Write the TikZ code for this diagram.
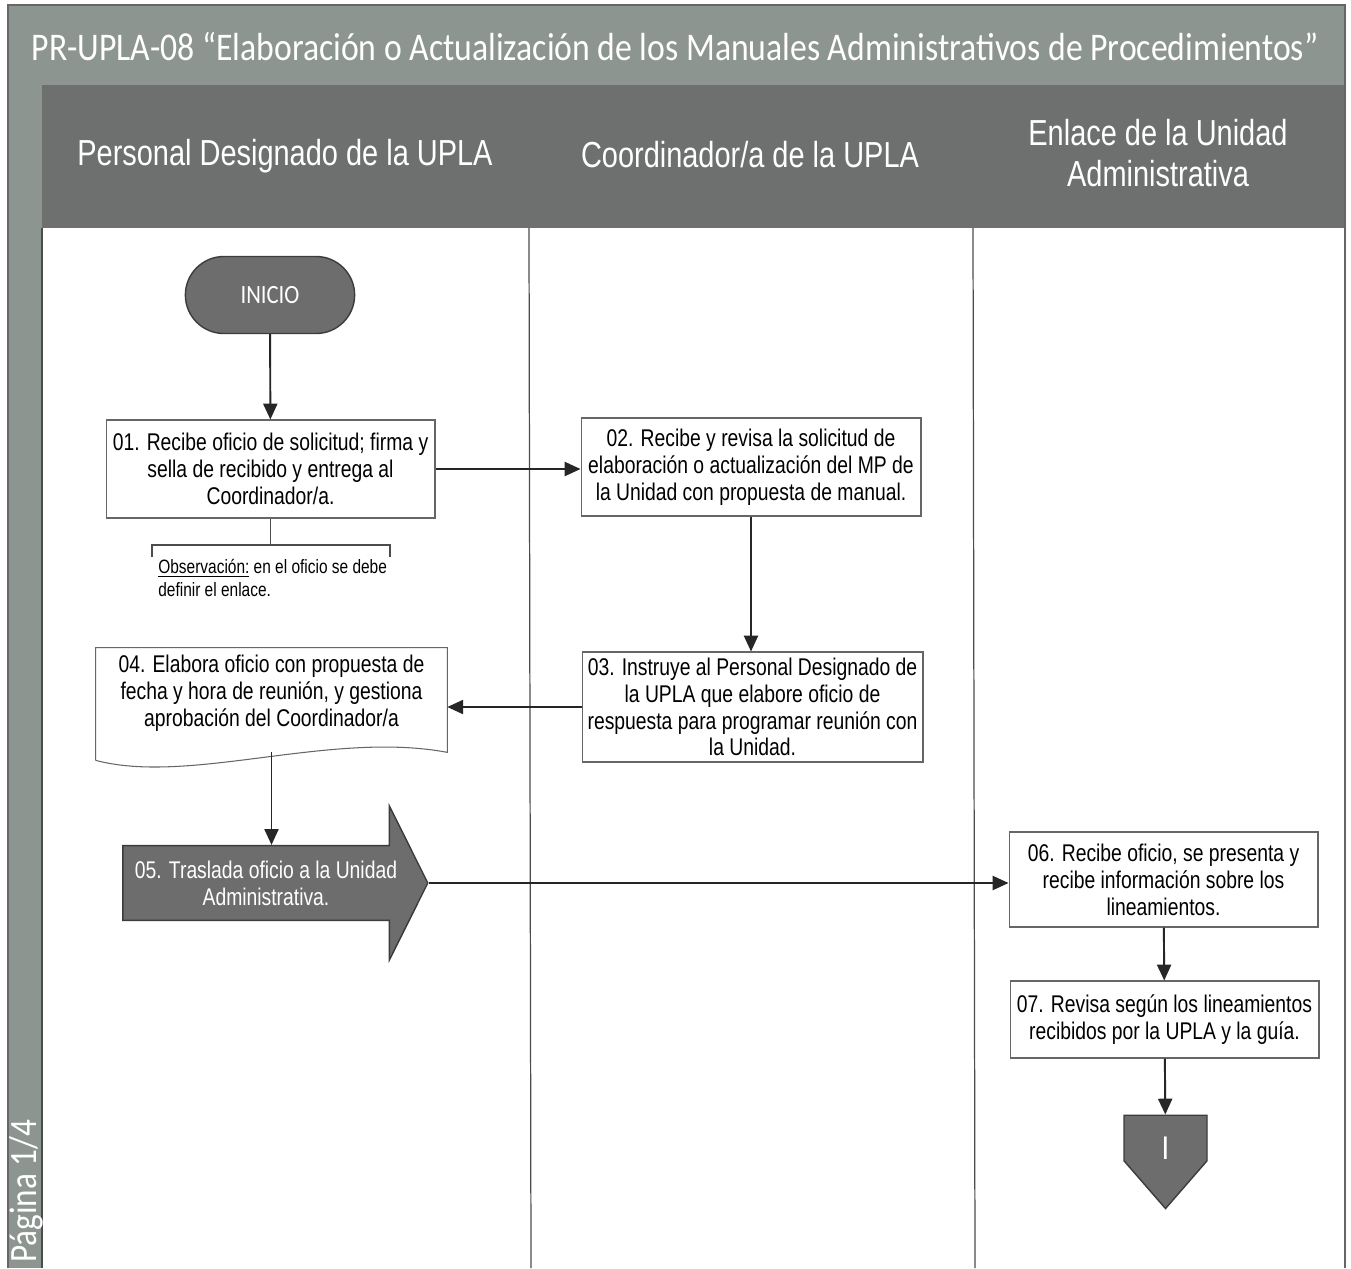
\documentclass[tikz,border=0pt]{standalone}
\usepackage{fontspec}
\setmainfont[FakeStretch=0.8]{Liberation Sans}
\newfontfamily\calibri[FakeStretch=0.86]{Carlito}
\usepackage{xcolor}
\usepackage{tikz}
\usetikzlibrary{arrows.meta,positioning,calc,shapes.misc,shapes.arrows,shapes.symbols}
\definecolor{banda}{HTML}{8D9590}
\definecolor{cabecera}{HTML}{6E706F}
\definecolor{relleno}{HTML}{6D6D6D}
\definecolor{borde}{HTML}{3C3C3C}

\begin{document}
\begin{tikzpicture}[x=0.02cm,y=-0.02cm,
  paso/.style={draw=black!60,line width=0.6pt,fill=white,align=center,inner sep=1pt,font=\fontsize{13.75}{15.3}\selectfont},
  oscuro/.style={draw=borde,line width=0.8pt,fill=relleno,text=white,align=center},
  flecha/.style={line width=1.1pt,draw=black!85,-{Triangle[length=9pt,width=8pt]}},
  carril/.style={text=white,align=center,font=\fontsize{20.6}{23}\selectfont}]
  \useasboundingbox (0,0) rectangle (1351,1268);
  \fill[white] (0,0) rectangle (1351,1268);
  \fill[banda] (8,5) rectangle (1345,85);
  \fill[banda] (8,85) rectangle (42,1268);
  \fill[cabecera] (42,85) rectangle (1345,228);
  \draw[black!60,line width=0.6pt] (8,1268) -- (8,5) -- (1345,5) -- (1345,1268);
  \draw[black!70,line width=0.7pt] (42,228) -- (42,1268);
  \draw[black!70,line width=0.7pt] (529,228) -- (531,1268);
  \draw[black!70,line width=0.7pt] (973,228) -- (975,1268);
  \node[text=white,font=\calibri\fontsize{22.3}{26}\selectfont] (titulo) at (675,47) {PR-UPLA-08 “Elaboración o Actualización de los Manuales Administrativos de Procedimientos”};
  \node[carril] (personal) at (285,156) {Personal Designado de la UPLA};
  \node[carril] (coordinador) at (750,155) {Coordinador/a de la UPLA};
  \node[carril] (enlace) at (1158,153) {Enlace de la Unidad\\Administrativa};
  \node[text=white,rotate=90,anchor=west,inner sep=1pt,font=\calibri\fontsize{22}{24}\selectfont] (pagina) at (26,1265) {Página 1/4};

  \node[oscuro,rounded rectangle,minimum width=3.62cm,minimum height=1.54cm,font=\calibri\fontsize{15}{18}\selectfont] (inicio) at (270,295) {INICIO};
  \node[paso,minimum width=6.58cm,minimum height=1.96cm] (paso01) at (270.5,469) {01. Recibe oficio de solicitud; firma y\\sella de recibido y entrega al\\Coordinador/a.};
  \node[paso,minimum width=6.8cm,minimum height=1.96cm] (paso02) at (751,467) {02. Recibe y revisa la solicitud de\\elaboración o actualización del MP de\\la Unidad con propuesta de manual.};
  \node[paso,minimum width=6.82cm,minimum height=2.2cm] (paso03) at (752.5,707) {03. Instruye al Personal Designado de\\la UPLA que elabore oficio de\\respuesta para programar reunión con\\la Unidad.};
  \node[align=center,font=\fontsize{13.75}{15.3}\selectfont,minimum width=7.02cm,minimum height=1.8cm,inner sep=1pt] (paso04) at (271.5,693) {04. Elabora oficio con propuesta de\\fecha y hora de reunión, y gestiona\\aprobación del Coordinador/a};
  \draw[black!60,line width=0.6pt] ($(paso04.south west)+(0,22)$) -- (paso04.north west) -- (paso04.north east) -- ($(paso04.south east)+(0,14)$) .. controls ($(paso04.south east)+(-117,-8)$) and ($(paso04.south west)+(94,47)$) .. ($(paso04.south west)+(0,22)$);
  \node[oscuro,single arrow,single arrow head extend=0.77cm,single arrow tip angle=127,minimum height=6.1cm,minimum width=3.08cm,inner ysep=7.6pt,font=\fontsize{13.75}{15.3}\selectfont] (paso05) at (266,883) {05. Traslada oficio a la Unidad\\Administrativa.};
  \node[paso,minimum width=6.18cm,minimum height=1.9cm] (paso06) at (1163.5,879.5) {06. Recibe oficio, se presenta y\\recibe información sobre los\\lineamientos.};
  \node[paso,minimum width=6.18cm,minimum height=1.54cm] (paso07) at (1164.5,1019.5) {07. Revisa según los lineamientos\\recibidos por la UPLA y la guía.};
  \node[oscuro,signal,signal to=south,signal from=nowhere,signal pointer angle=82,minimum width=1.66cm,minimum height=1cm,inner sep=0pt,text height=0.86cm,text depth=0pt,font=\calibri\fontsize{20}{24}\selectfont] (conector) at (1165.5,1138) {I};

  \coordinate (corchete) at (270.5,545);
  \draw[black!70,line width=0.6pt] (paso01.south) -- (corchete);
  \draw[black!70,line width=0.6pt] (152,557) -- (152,545) -- (390,545) -- (390,557);
  \node[anchor=north west,align=left,inner sep=0pt,font=\fontsize{11}{13}\selectfont] (nota) at (158,559) {\underline{Observación:} en el oficio se debe\\definir el enlace.};

  \draw[flecha] (inicio) -- (paso01);
  \draw[flecha] (paso01.east) -- (paso01.east -| paso02.west);
  \draw[flecha] (paso02.south) -- (paso02.south |- paso03.north);
  \draw[flecha] (paso03.west) -- (paso03.west -| paso04.east);
  \draw[flecha] ($(paso04.south)+(0,14)$) coordinate (salida04) -- (salida04 |- paso05.north);
  \draw[flecha] (paso05.tip) -- (paso05.tip -| paso06.west);
  \draw[flecha] (paso06) -- (paso07);
  \draw[flecha] (paso07) -- (conector);
\end{tikzpicture}
\end{document}
